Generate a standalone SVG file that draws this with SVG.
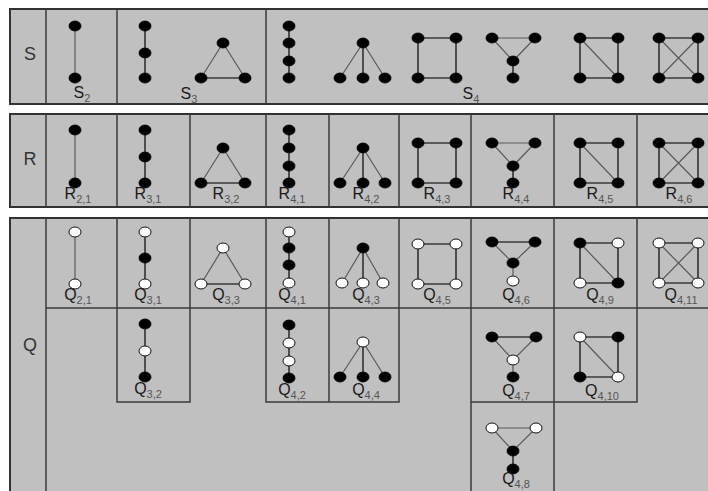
<svg xmlns="http://www.w3.org/2000/svg" width="708" height="491" viewBox="0 0 708 491">
<style>
.panel{fill:#c0c0c0;stroke:#333;stroke-width:2}
.div{stroke:#3a3a3a;stroke-width:1.5;fill:none}
.e{stroke:#3a3a3a;stroke-width:1.7;fill:none}
.t{stroke:#5a5a5a;stroke-width:1.2;fill:none}
.b{fill:#000;stroke:#000;stroke-width:0.8}
.w{fill:#fff;stroke:#111;stroke-width:1}
.lbl{font-family:"Liberation Sans",Arial,sans-serif;font-size:16px;fill:#1a1a1a;text-anchor:middle}
.sub{font-size:11px;fill:#555}
.pl{font-family:"Liberation Sans",Arial,sans-serif;font-size:18px;fill:#333;text-anchor:middle}
</style>
<rect width="708" height="491" fill="#fff"/>
<g id="panels">
<rect class="panel" x="10" y="9" width="700" height="95"/>
<rect class="panel" x="10" y="114" width="700" height="93"/>
<rect class="panel" x="10" y="218" width="700" height="280"/>
</g>
<g id="grid">
<path class="div" d="M46 9V104M117 9V104M266 9V104"/>
<path class="div" d="M46 114V207M117 114V207M190 114V207M266 114V207M329 114V207M399 114V207M471 114V207M554 114V207M637 114V207"/>
<path class="div" d="M46 218V491M117 218V308M190 218V308M266 218V308M329 218V308M399 218V308M471 218V308M554 218V308M637 218V308M46 308H708"/>
<path class="div" d="M117 308V402H190V308M266 308V402H399V308M329 308V402M471 308V491M554 308V491M637 308V402H471"/>
</g>
<text class="pl" x="30" y="60">S</text>
<text class="pl" x="30" y="165">R</text>
<text class="pl" x="30" y="351">Q</text>
<g id="connectors">
<line class="t" x1="75" y1="26" x2="75" y2="78"/>
<path class="e" d="M145 26V78"/>
<path class="t" d="M223 43L201 78M223 43L245 78"/><path class="e" d="M201 78H245"/>
<path class="e" d="M289 26V78"/>
<path class="t" d="M363 43L340 78M363 43L385 78"/><path class="e" d="M363 43V78"/>
<path class="e" d="M418 38H456V78H418Z"/>
<path class="t" d="M492 38H535M492 38L513 61L535 38"/><path class="e" d="M513 61V78"/>
<path class="e" d="M580 38H618V78H580Z"/><path class="t" d="M580 38L618 78"/>
<path class="e" d="M659 38H698V78H659Z"/><path class="t" d="M659 38L698 78M698 38L659 78"/>
<line class="t" x1="75" y1="130" x2="75" y2="183"/>
<path class="e" d="M145 130V183"/>
<path class="t" d="M223 148L201 183M223 148L245 183"/><path class="e" d="M201 183H245"/>
<path class="e" d="M289 130V183"/>
<path class="t" d="M363 148L340 183M363 148L385 183"/><path class="e" d="M363 148V183"/>
<path class="e" d="M418 143H456V183H418Z"/>
<path class="t" d="M492 143H535M492 143L513 166L535 143"/><path class="e" d="M513 166V183"/>
<path class="e" d="M580 143H618V183H580Z"/><path class="t" d="M580 143L618 183"/>
<path class="e" d="M659 143H698V183H659Z"/><path class="t" d="M659 143L698 183M698 143L659 183"/>
<line class="t" x1="75" y1="232" x2="75" y2="284"/>
<path class="e" d="M145 232V284"/>
<path class="t" d="M223 248L201 284M223 248L245 284"/><path class="e" d="M201 284H245"/>
<path class="e" d="M289 232V284"/>
<path class="t" d="M363 248L342 283M363 248L383 283"/><path class="e" d="M363 248V283"/>
<path class="e" d="M418 244H456V284H418Z"/>
<path class="e" d="M492 242H535"/><path class="t" d="M492 242L513 263L535 242"/><path class="t" d="M513 263V281"/>
<path class="e" d="M580 243H618V283H580Z"/><path class="t" d="M580 243L618 283"/>
<path class="e" d="M659 243H698V283H659Z"/><path class="t" d="M659 243L698 283M698 243L659 283"/>
<path class="e" d="M145 324V377"/>
<path class="e" d="M289 325V378"/>
<path class="t" d="M363 342L340 377M363 342L385 377"/><path class="e" d="M363 342V377"/>
<path class="e" d="M492 337H536"/><path class="t" d="M492 337L513 360L536 337"/><path class="t" d="M513 360V377"/>
<path class="e" d="M580 337H618V377H580Z"/><path class="t" d="M580 337L618 377"/>
<path class="t" d="M492 428H536M492 428L513 451L536 428"/><path class="e" d="M513 451V469"/>
</g>
<g id="S2"><ellipse class="b" cx="75" cy="26" rx="6" ry="5"/><ellipse class="b" cx="75" cy="78" rx="6" ry="5"/>
<text class="lbl" x="82" y="98">S<tspan class="sub" dy="4">2</tspan></text></g>
<g id="S3"><ellipse class="b" cx="145" cy="26" rx="6" ry="5"/><ellipse class="b" cx="145" cy="53" rx="6" ry="5"/><ellipse class="b" cx="145" cy="78" rx="6" ry="5"/>
<ellipse class="b" cx="223" cy="43" rx="6" ry="5"/><ellipse class="b" cx="201" cy="78" rx="6" ry="5"/><ellipse class="b" cx="245" cy="78" rx="6" ry="5"/>
<text class="lbl" x="189" y="99">S<tspan class="sub" dy="4">3</tspan></text></g>
<g id="S4"><ellipse class="b" cx="289" cy="26" rx="6" ry="5"/><ellipse class="b" cx="289" cy="43" rx="6" ry="5"/><ellipse class="b" cx="289" cy="61" rx="6" ry="5"/><ellipse class="b" cx="289" cy="78" rx="6" ry="5"/>
<ellipse class="b" cx="363" cy="43" rx="6" ry="5"/><ellipse class="b" cx="340" cy="78" rx="6" ry="5"/><ellipse class="b" cx="363" cy="78" rx="6" ry="5"/><ellipse class="b" cx="385" cy="78" rx="6" ry="5"/>
<ellipse class="b" cx="418" cy="38" rx="6" ry="5"/><ellipse class="b" cx="456" cy="38" rx="6" ry="5"/><ellipse class="b" cx="418" cy="78" rx="6" ry="5"/><ellipse class="b" cx="456" cy="78" rx="6" ry="5"/>
<ellipse class="b" cx="492" cy="38" rx="6" ry="5"/><ellipse class="b" cx="535" cy="38" rx="6" ry="5"/><ellipse class="b" cx="513" cy="61" rx="6" ry="5"/><ellipse class="b" cx="513" cy="78" rx="6" ry="5"/>
<ellipse class="b" cx="580" cy="38" rx="6" ry="5"/><ellipse class="b" cx="618" cy="38" rx="6" ry="5"/><ellipse class="b" cx="580" cy="78" rx="6" ry="5"/><ellipse class="b" cx="618" cy="78" rx="6" ry="5"/>
<ellipse class="b" cx="659" cy="38" rx="6" ry="5"/><ellipse class="b" cx="698" cy="38" rx="6" ry="5"/><ellipse class="b" cx="659" cy="78" rx="6" ry="5"/><ellipse class="b" cx="698" cy="78" rx="6" ry="5"/>
<text class="lbl" x="471" y="99">S<tspan class="sub" dy="4">4</tspan></text></g>
<g id="R21"><ellipse class="b" cx="75" cy="130" rx="6" ry="5"/><ellipse class="b" cx="75" cy="183" rx="6" ry="5"/>
<text class="lbl" x="78" y="199">R<tspan class="sub" dy="4">2,1</tspan></text></g>
<g id="R31"><ellipse class="b" cx="145" cy="130" rx="6" ry="5"/><ellipse class="b" cx="145" cy="157" rx="6" ry="5"/><ellipse class="b" cx="145" cy="183" rx="6" ry="5"/>
<text class="lbl" x="148" y="199">R<tspan class="sub" dy="4">3,1</tspan></text></g>
<g id="R32"><ellipse class="b" cx="223" cy="148" rx="6" ry="5"/><ellipse class="b" cx="201" cy="183" rx="6" ry="5"/><ellipse class="b" cx="245" cy="183" rx="6" ry="5"/>
<text class="lbl" x="226" y="199">R<tspan class="sub" dy="4">3,2</tspan></text></g>
<g id="R41"><ellipse class="b" cx="289" cy="130" rx="6" ry="5"/><ellipse class="b" cx="289" cy="148" rx="6" ry="5"/><ellipse class="b" cx="289" cy="166" rx="6" ry="5"/><ellipse class="b" cx="289" cy="183" rx="6" ry="5"/>
<text class="lbl" x="292" y="199">R<tspan class="sub" dy="4">4,1</tspan></text></g>
<g id="R42"><ellipse class="b" cx="363" cy="148" rx="6" ry="5"/><ellipse class="b" cx="340" cy="183" rx="6" ry="5"/><ellipse class="b" cx="363" cy="183" rx="6" ry="5"/><ellipse class="b" cx="385" cy="183" rx="6" ry="5"/>
<text class="lbl" x="366" y="199">R<tspan class="sub" dy="4">4,2</tspan></text></g>
<g id="R43"><ellipse class="b" cx="418" cy="143" rx="6" ry="5"/><ellipse class="b" cx="456" cy="143" rx="6" ry="5"/><ellipse class="b" cx="418" cy="183" rx="6" ry="5"/><ellipse class="b" cx="456" cy="183" rx="6" ry="5"/>
<text class="lbl" x="437" y="199">R<tspan class="sub" dy="4">4,3</tspan></text></g>
<g id="R44"><ellipse class="b" cx="492" cy="143" rx="6" ry="5"/><ellipse class="b" cx="535" cy="143" rx="6" ry="5"/><ellipse class="b" cx="513" cy="166" rx="6" ry="5"/><ellipse class="b" cx="513" cy="183" rx="6" ry="5"/>
<text class="lbl" x="516" y="199">R<tspan class="sub" dy="4">4,4</tspan></text></g>
<g id="R45"><ellipse class="b" cx="580" cy="143" rx="6" ry="5"/><ellipse class="b" cx="618" cy="143" rx="6" ry="5"/><ellipse class="b" cx="580" cy="183" rx="6" ry="5"/><ellipse class="b" cx="618" cy="183" rx="6" ry="5"/>
<text class="lbl" x="600" y="199">R<tspan class="sub" dy="4">4,5</tspan></text></g>
<g id="R46"><ellipse class="b" cx="659" cy="143" rx="6" ry="5"/><ellipse class="b" cx="698" cy="143" rx="6" ry="5"/><ellipse class="b" cx="659" cy="183" rx="6" ry="5"/><ellipse class="b" cx="698" cy="183" rx="6" ry="5"/>
<text class="lbl" x="679" y="199">R<tspan class="sub" dy="4">4,6</tspan></text></g>
<g id="Q21"><ellipse class="w" cx="75" cy="232" rx="6" ry="5"/><ellipse class="w" cx="75" cy="284" rx="6" ry="5"/>
<text class="lbl" x="78" y="300">Q<tspan class="sub" dy="4">2,1</tspan></text></g>
<g id="Q31"><ellipse class="w" cx="145" cy="232" rx="6" ry="5"/><ellipse class="b" cx="145" cy="258" rx="6" ry="5"/><ellipse class="w" cx="145" cy="284" rx="6" ry="5"/>
<text class="lbl" x="148" y="300">Q<tspan class="sub" dy="4">3,1</tspan></text></g>
<g id="Q33"><ellipse class="w" cx="223" cy="248" rx="6" ry="5"/><ellipse class="w" cx="201" cy="284" rx="6" ry="5"/><ellipse class="w" cx="245" cy="284" rx="6" ry="5"/>
<text class="lbl" x="226" y="300">Q<tspan class="sub" dy="4">3,3</tspan></text></g>
<g id="Q41"><ellipse class="w" cx="289" cy="232" rx="6" ry="5"/><ellipse class="b" cx="289" cy="248" rx="6" ry="5"/><ellipse class="b" cx="289" cy="265" rx="6" ry="5"/><ellipse class="w" cx="289" cy="283" rx="6" ry="5"/>
<text class="lbl" x="292" y="300">Q<tspan class="sub" dy="4">4,1</tspan></text></g>
<g id="Q43"><ellipse class="b" cx="363" cy="248" rx="6" ry="5"/><ellipse class="w" cx="342" cy="283" rx="6" ry="5"/><ellipse class="w" cx="363" cy="283" rx="6" ry="5"/><ellipse class="w" cx="383" cy="283" rx="6" ry="5"/>
<text class="lbl" x="366" y="300">Q<tspan class="sub" dy="4">4,3</tspan></text></g>
<g id="Q45"><ellipse class="w" cx="418" cy="244" rx="6" ry="5"/><ellipse class="w" cx="456" cy="244" rx="6" ry="5"/><ellipse class="w" cx="418" cy="284" rx="6" ry="5"/><ellipse class="w" cx="456" cy="284" rx="6" ry="5"/>
<text class="lbl" x="437" y="300">Q<tspan class="sub" dy="4">4,5</tspan></text></g>
<g id="Q46"><ellipse class="b" cx="492" cy="242" rx="6" ry="5"/><ellipse class="b" cx="535" cy="242" rx="6" ry="5"/><ellipse class="b" cx="513" cy="263" rx="6" ry="5"/><ellipse class="w" cx="513" cy="281" rx="6" ry="5"/>
<text class="lbl" x="516" y="300">Q<tspan class="sub" dy="4">4,6</tspan></text></g>
<g id="Q49"><ellipse class="b" cx="580" cy="243" rx="6" ry="5"/><ellipse class="w" cx="618" cy="243" rx="6" ry="5"/><ellipse class="w" cx="580" cy="283" rx="6" ry="5"/><ellipse class="b" cx="618" cy="283" rx="6" ry="5"/>
<text class="lbl" x="600" y="300">Q<tspan class="sub" dy="4">4,9</tspan></text></g>
<g id="Q411"><ellipse class="w" cx="659" cy="243" rx="6" ry="5"/><ellipse class="w" cx="698" cy="243" rx="6" ry="5"/><ellipse class="w" cx="659" cy="283" rx="6" ry="5"/><ellipse class="w" cx="698" cy="283" rx="6" ry="5"/>
<text class="lbl" x="681" y="300">Q<tspan class="sub" dy="4">4,11</tspan></text></g>
<g id="Q32"><ellipse class="b" cx="145" cy="324" rx="6" ry="5"/><ellipse class="w" cx="145" cy="351" rx="6" ry="5"/><ellipse class="b" cx="145" cy="377" rx="6" ry="5"/>
<text class="lbl" x="148" y="394">Q<tspan class="sub" dy="4">3,2</tspan></text></g>
<g id="Q42"><ellipse class="b" cx="289" cy="325" rx="6" ry="5"/><ellipse class="w" cx="289" cy="343" rx="6" ry="5"/><ellipse class="w" cx="289" cy="361" rx="6" ry="5"/><ellipse class="b" cx="289" cy="378" rx="6" ry="5"/>
<text class="lbl" x="292" y="395">Q<tspan class="sub" dy="4">4,2</tspan></text></g>
<g id="Q44"><ellipse class="w" cx="363" cy="342" rx="6" ry="5"/><ellipse class="b" cx="340" cy="377" rx="6" ry="5"/><ellipse class="b" cx="363" cy="377" rx="6" ry="5"/><ellipse class="b" cx="385" cy="377" rx="6" ry="5"/>
<text class="lbl" x="366" y="395">Q<tspan class="sub" dy="4">4,4</tspan></text></g>
<g id="Q47"><ellipse class="b" cx="492" cy="337" rx="6" ry="5"/><ellipse class="b" cx="536" cy="337" rx="6" ry="5"/><ellipse class="w" cx="513" cy="360" rx="6" ry="5"/><ellipse class="b" cx="513" cy="377" rx="6" ry="5"/>
<text class="lbl" x="516" y="396">Q<tspan class="sub" dy="4">4,7</tspan></text></g>
<g id="Q410"><ellipse class="w" cx="580" cy="337" rx="6" ry="5"/><ellipse class="b" cx="618" cy="337" rx="6" ry="5"/><ellipse class="b" cx="580" cy="377" rx="6" ry="5"/><ellipse class="w" cx="618" cy="377" rx="6" ry="5"/>
<text class="lbl" x="602" y="396">Q<tspan class="sub" dy="4">4,10</tspan></text></g>
<g id="Q48"><ellipse class="w" cx="492" cy="428" rx="6" ry="5"/><ellipse class="w" cx="536" cy="428" rx="6" ry="5"/><ellipse class="b" cx="513" cy="451" rx="6" ry="5"/><ellipse class="b" cx="513" cy="469" rx="6" ry="5"/>
<text class="lbl" x="516" y="484">Q<tspan class="sub" dy="4">4,8</tspan></text></g>
</svg>
